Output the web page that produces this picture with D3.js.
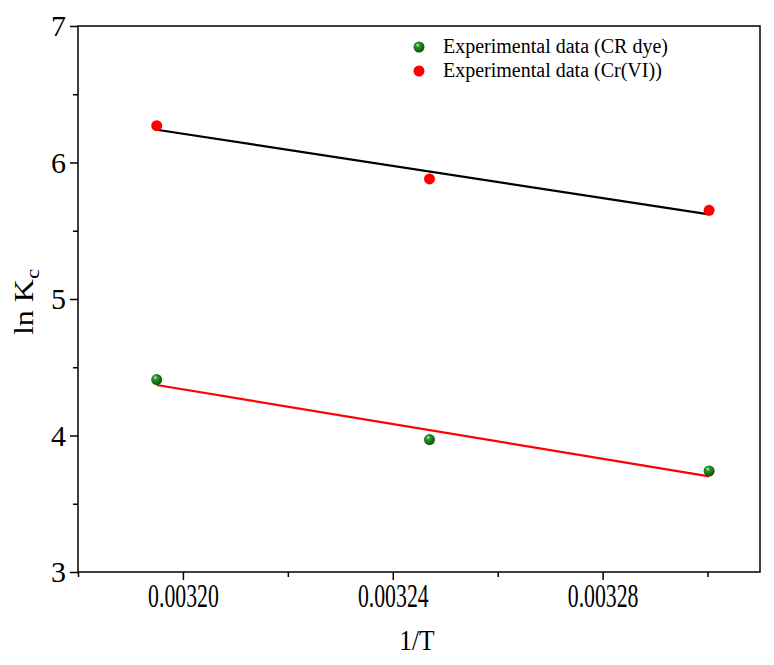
<!DOCTYPE html>
<html>
<head>
<meta charset="utf-8">
<script src="https://cdn.jsdelivr.net/npm/d3@7"></script>
<style>
  body { margin: 0; background: #fff; }
  svg { display: block; }
  .axis text { font-family: "Liberation Serif", "Times New Roman", serif; font-size: 30px; fill: #000; }
  .axis--x text { font-size: 33px; }
  .axis line, .axis path { stroke: #000; stroke-width: 1.5; }
</style>
</head>
<body>
<div id="chart"></div>
<script>
// 1/T values (K^-1) for 313, 308, 303 K
const invT = [0.003195, 0.003247, 0.0033003];
// ln Kc
const lnKcDye = [4.41, 3.97, 3.74];   // CR dye (green)
const lnKcCr  = [6.27, 5.88, 5.65];   // Cr(VI) (red)
// linear fit endpoints at first / last 1/T
const fitX   = [0.003195, 0.0033003];
const fitDye = [4.37, 3.70];
const fitCr  = [6.24, 5.62];

const xTicks = [0.00320, 0.00324, 0.00328];
const xMinor = [0.00318, 0.00322, 0.00326, 0.00330];
const yTicks = [3, 4, 5, 6, 7];
const yMinor = [3.5, 4.5, 5.5, 6.5];
const legendLabels = ['Experimental data (CR dye)', 'Experimental data (Cr(VI))'];

const W = 774, H = 665;
const margin = { top: 26, right: 14, bottom: 93, left: 78 };
const width  = W - margin.left - margin.right;
const height = H - margin.top - margin.bottom;

const svg = d3.select('#chart').append('svg')
  .attr('width', W)
  .attr('height', H);

// sphere look for the green markers
const defs = svg.append('defs');
const grad = defs.append('radialGradient')
  .attr('id', 'greenBall')
  .attr('cx', '40%').attr('cy', '35%').attr('r', '65%')
  .attr('fx', '38%').attr('fy', '32%');
grad.append('stop').attr('offset', '0%').attr('stop-color', '#d8f2d0');
grad.append('stop').attr('offset', '28%').attr('stop-color', '#2a962a');
grad.append('stop').attr('offset', '100%').attr('stop-color', '#075507');

const g = svg.append('g')
  .attr('transform', `translate(${margin.left},${margin.top})`);

const x = d3.scaleLinear().domain([0.00318, 0.00331]).range([0, width]);
const y = d3.scaleLinear().domain([3, 7]).range([height, 0]);

// frame
g.append('rect')
  .attr('width', width)
  .attr('height', height)
  .attr('fill', 'none')
  .attr('stroke', '#000')
  .attr('stroke-width', 1.5);

// x axis — major + minor ticks (labels are narrow in the original)
g.append('g')
  .attr('class', 'axis axis--x')
  .attr('transform', `translate(0,${height})`)
  .call(d3.axisBottom(x).tickValues(xTicks).tickFormat(d3.format('.5f'))
    .tickSize(8).tickSizeOuter(0).tickPadding(4))
  .call(a => a.select('.domain').remove())
  .call(a => a.selectAll('.tick text').attr('transform', 'scale(0.66,1)'));

g.append('g')
  .attr('class', 'axis')
  .attr('transform', `translate(0,${height})`)
  .call(d3.axisBottom(x).tickValues(xMinor).tickFormat('').tickSize(5).tickSizeOuter(0))
  .call(a => a.select('.domain').remove());

// y axis — major + minor ticks
g.append('g')
  .attr('class', 'axis')
  .call(d3.axisLeft(y).tickValues(yTicks).tickFormat(d3.format('d'))
    .tickSize(8).tickSizeOuter(0).tickPadding(4))
  .call(a => a.select('.domain').remove());

g.append('g')
  .attr('class', 'axis')
  .call(d3.axisLeft(y).tickValues(yMinor).tickFormat('').tickSize(5).tickSizeOuter(0))
  .call(a => a.select('.domain').remove());

// axis titles
g.append('text')
  .attr('transform', `translate(${width / 2 - 2},${height + 78}) scale(0.85,1)`)
  .attr('text-anchor', 'middle')
  .attr('font-family', '"Liberation Serif", serif')
  .attr('font-size', '30px')
  .text('1/T');

const yLab = g.append('text')
  .attr('transform', `translate(${-45},${height / 2 + 3}) rotate(-90) scale(1,0.85)`)
  .attr('text-anchor', 'middle')
  .attr('font-family', '"Liberation Serif", serif')
  .attr('font-size', '32px');
yLab.append('tspan').text('ln K');
yLab.append('tspan').attr('dy', 7).attr('font-size', '23px').text('c');

// fit lines
const line = d3.line().x(d => x(d[0])).y(d => y(d[1]));

g.append('path')
  .datum(d3.zip(fitX, fitCr))
  .attr('d', line)
  .attr('fill', 'none')
  .attr('stroke', '#000')
  .attr('stroke-width', 2.2);

g.append('path')
  .datum(d3.zip(fitX, fitDye))
  .attr('d', line)
  .attr('fill', 'none')
  .attr('stroke', '#ff0000')
  .attr('stroke-width', 2.2);

// points
g.append('g').selectAll('circle')
  .data(d3.zip(invT, lnKcCr))
  .join('circle')
    .attr('cx', d => x(d[0]))
    .attr('cy', d => y(d[1]))
    .attr('r', 5.5)
    .attr('fill', '#ff0000');

g.append('g').selectAll('circle')
  .data(d3.zip(invT, lnKcDye))
  .join('circle')
    .attr('cx', d => x(d[0]))
    .attr('cy', d => y(d[1]))
    .attr('r', 5.5)
    .attr('fill', 'url(#greenBall)');

// legend
const legend = svg.append('g')
  .attr('transform', 'translate(419,47)');

legendLabels.forEach((lab, i) => {
  const row = legend.append('g').attr('transform', `translate(0,${i * 24})`);
  row.append('circle')
    .attr('r', 5.5)
    .attr('fill', i === 0 ? 'url(#greenBall)' : '#ff0000');
  row.append('text')
    .attr('x', 24)
    .attr('y', 6)
    .attr('font-family', '"Liberation Serif", serif')
    .attr('font-size', '20px')
    .text(lab);
});
</script>
</body>
</html>
